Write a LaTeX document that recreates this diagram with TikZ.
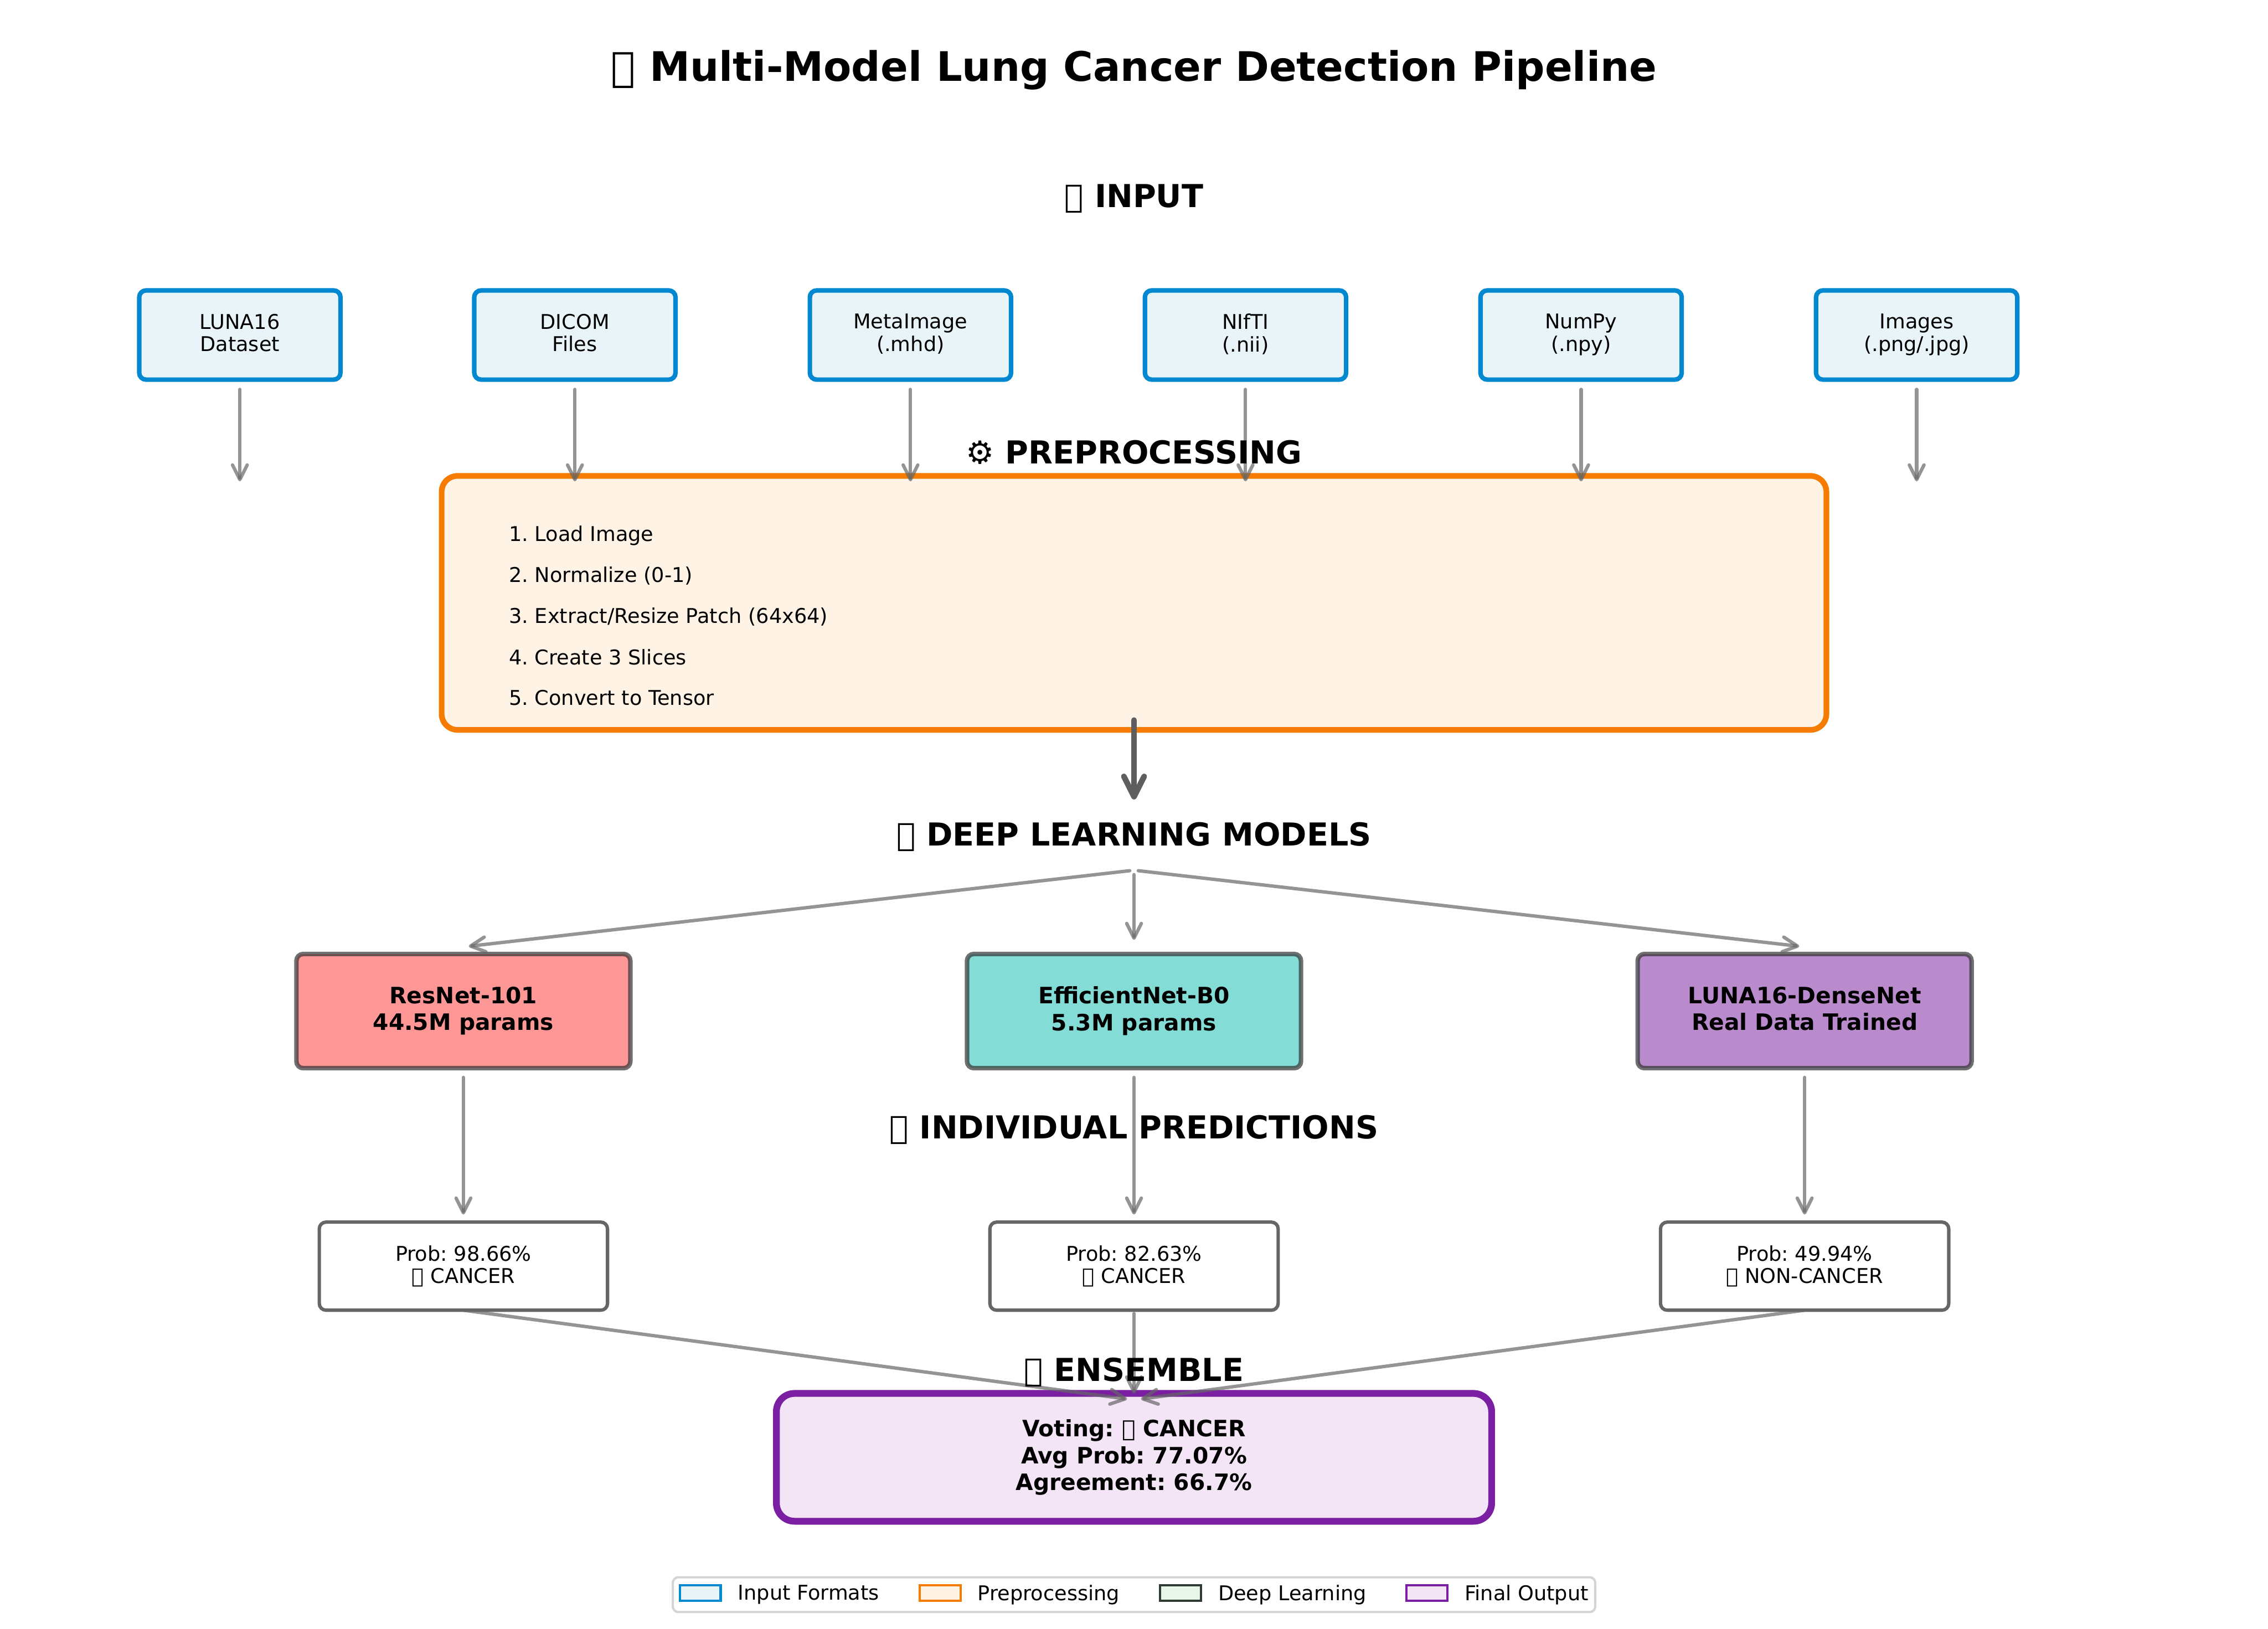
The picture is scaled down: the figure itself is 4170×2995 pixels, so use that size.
\documentclass[tikz,border=0pt]{standalone}
\usepackage{fontspec}
\setmainfont{DejaVu Sans}
\usetikzlibrary{arrows.meta}

\definecolor{inEdge}{HTML}{0288D1}
\definecolor{inFill}{HTML}{E8F4F8}
\definecolor{preEdge}{HTML}{F57C00}
\definecolor{preFill}{HTML}{FFF3E6}
\definecolor{dlEdge}{HTML}{2E3B33}
\definecolor{dlFill}{HTML}{E8F5E9}
\definecolor{ensEdge}{HTML}{7B1FA2}
\definecolor{ensFill}{HTML}{F3E5F5}
\definecolor{resnetFill}{HTML}{FF6B6B}
\definecolor{effnetFill}{HTML}{4ECDC4}
\definecolor{denseFill}{HTML}{9B59B6}

% caixa vazia dos glifos que faltam na fonte
\newcommand{\nogl}{{\XeTeXglyph 0 }}
\newcommand{\fsz}[2]{\fontsize{#1}{#2}\selectfont\frenchspacing}

\tikzset{
    titletext/.style={inner sep=0pt, font=\fsz{18}{22}\bfseries},
    sectext/.style={inner sep=0pt, font=\fsz{14}{17}\bfseries},
    basebox/.style={rounded corners=3pt, align=center, inner sep=0pt, outer sep=0pt},
    inbox/.style={basebox, draw=inEdge, fill=inFill, line width=2pt, text depth=2.1pt,
        minimum width=370*0.24bp, minimum height=164*0.24bp, font=\fsz{9}{10}},
    modelbox/.style={basebox, draw=black!80, opacity=0.7, text opacity=1, line width=2pt, text depth=2.3pt,
        minimum width=614*0.24bp, minimum height=210*0.24bp, font=\fsz{10}{11.9}\bfseries},
    probbox/.style={basebox, draw=black!60, fill=white, line width=1.5pt,
        minimum width=530*0.24bp, minimum height=162*0.24bp, font=\fsz{9}{10}},
    flow/.style={draw=black!60, draw opacity=0.7, line width=1.5pt, line cap=round, line join=round,
        -{Straight Barb[length=6.5pt,width=6.5pt,round]}},
    keypatch/.style={line width=1pt, minimum width=75*0.24bp, minimum height=29*0.24bp, inner sep=0pt, outer sep=0pt},
    keytext/.style={inner sep=0pt, anchor=west, font=\fsz{9}{10}}
}

\begin{document}
\begin{tikzpicture}[x=0.24bp, y=-0.24bp]
    % 1. MARGENS DA FIGURA
    \useasboundingbox (0,0) rectangle (4170,2995);
    \def\Cx{2085}  % Eixo central do fluxo

    % ==========================================
    % 2. FORMATOS DE ENTRADA
    % ==========================================
    \foreach \nm/\xx/\lbl in {inLuna/441/{LUNA16\\Dataset}, inDicom/1057/{DICOM\\Files},
            inMeta/1674/{MetaImage\\(.mhd)}, inNifti/2290/{NIfTI\\(.nii)},
            inNumpy/2907/{NumPy\\(.npy)}, inImages/3524/{Images\\(.png/.jpg)}} {
        \node[inbox] (\nm) at (\xx, 616) {\lbl};
        \coordinate (\nm End) at (\xx, 885);
    }

    % ==========================================
    % 3. PRE-PROCESSAMENTO
    % ==========================================
    \node[draw=preEdge, fill=preFill, line width=2.5pt, rounded corners=7pt, inner sep=0pt, outer sep=0pt,
        minimum width=2546*0.24bp, minimum height=467*0.24bp] (preBox) at (\Cx, 1108.5) {};
    \foreach \i/\yy/\lbl in {1/985/Load Image, 2/1059/Normalize (0-1), 3/1134/Extract\slash Resize Patch (64x64),
            4/1208/Create 3 Slices, 5/1283/Convert to Tensor} {
        \node[keytext] (preStep\i) at (935, \yy) {\i. \lbl};
    }
    \coordinate (modelsIn) at (\Cx, 1470);

    % ==========================================
    % 4. MODELOS E PREDICOES
    % ==========================================
    \coordinate (fanOut) at (\Cx, 1600);
    \coordinate (resnetIn) at (852, 1741);
    \coordinate (denseIn) at (3318, 1741);
    \node[modelbox, fill=resnetFill] (resnet) at (852, 1859) {ResNet-101\\44.5M params};
    \node[modelbox, fill=effnetFill] (effnet) at (\Cx, 1859) {EfficientNet-B0\\5.3M params};
    \node[modelbox, fill=denseFill] (dense) at (3318, 1859) {LUNA16-DenseNet\\Real Data Trained};

    \node[probbox] (probRes) at (852, 2328) {Prob: 98.66\%\\\nogl\ CANCER};
    \node[probbox] (probEff) at (\Cx, 2328) {Prob: 82.63\%\\\nogl\ CANCER};
    \node[probbox] (probDense) at (3318, 2328) {Prob: 49.94\%\\\nogl\ NON-CANCER};

    % ==========================================
    % 5. ENSEMBLE
    % ==========================================
    \node[basebox, draw=ensEdge, fill=ensFill, line width=3pt, rounded corners=8pt,
        minimum width=1315*0.24bp, minimum height=235*0.24bp, font=\fsz{10}{11.8}\bfseries] (ensBox) at (\Cx, 2679.5)
        {Voting: \nogl\ CANCER\\Avg Prob: 77.07\%\\Agreement: 66.7\%};
    \coordinate (ensIn) at (\Cx, 2574);

    % ==========================================
    % 6. SETAS
    % ==========================================
    \foreach \nm in {inLuna, inDicom, inMeta, inNifti, inNumpy, inImages} {
        \draw[flow, shorten <=18*0.24bp] (\nm.south) -- (\nm End);
    }
    \draw[draw=black!63, line width=2.5pt, line cap=round, line join=round,
        -{Straight Barb[length=9pt,width=9pt,round]}] ([yshift=18*0.24bp]preBox.south) -- (modelsIn);
    \draw[flow, shorten <=8*0.24bp, shorten >=10*0.24bp] (fanOut) -- (resnetIn);
    \draw[flow, shorten <=8*0.24bp, shorten >=26*0.24bp] (fanOut) -- (effnet.north);
    \draw[flow, shorten <=8*0.24bp, shorten >=10*0.24bp] (fanOut) -- (denseIn);
    \foreach \mdl/\prb in {resnet/probRes, effnet/probEff, dense/probDense} {
        \draw[flow, shorten <=17*0.24bp, shorten >=14*0.24bp] (\mdl.south) -- (\prb.north);
    }
    \draw[flow, shorten >=13*0.24bp] (probRes.south) -- (ensIn);
    \draw[flow, shorten <=6*0.24bp] (probEff.south) -- (ensBox.north);
    \draw[flow, shorten >=13*0.24bp] (probDense.south) -- (ensIn);

    % ==========================================
    % 7. TITULOS
    % ==========================================
    \node[titletext] (title) at (\Cx, 129) {\nogl\ Multi-Model Lung Cancer Detection Pipeline};
    \node[sectext] (secInput) at (\Cx, 365) {\nogl\ INPUT};
    \node[sectext] (secPre) at (\Cx, 832) {⚙ PREPROCESSING};
    \node[sectext] (secDeep) at (\Cx, 1539) {\nogl\ DEEP LEARNING MODELS};
    \node[sectext] (secPred) at (\Cx, 2077) {\nogl\ INDIVIDUAL PREDICTIONS};
    \node[sectext] (secEns) at (\Cx, 2523) {\nogl\ ENSEMBLE};

    % ==========================================
    % 8. LEGENDA
    % ==========================================
    \node[draw=black!17, fill=white, line width=1pt, rounded corners=2.5pt, inner sep=0pt, outer sep=0pt,
        minimum width=1696*0.24bp, minimum height=64*0.24bp] (keyFrame) at (\Cx, 2932) {};
    \node[keypatch, draw=inEdge, fill=inFill] (keyIn) at (1287.5, 2929) {};
    \node[keytext, yshift=-3*0.24bp, right=31*0.24bp] (keyInText) at (keyIn.east) {Input Formats};
    \node[keypatch, draw=preEdge, fill=preFill] (keyPre) at (1728.5, 2929) {};
    \node[keytext, yshift=-3*0.24bp, right=31*0.24bp] (keyPreText) at (keyPre.east) {Preprocessing};
    \node[keypatch, draw=dlEdge, fill=dlFill] (keyDeep) at (2170.5, 2929) {};
    \node[keytext, yshift=-3*0.24bp, right=31*0.24bp] (keyDeepText) at (keyDeep.east) {Deep Learning};
    \node[keypatch, draw=ensEdge, fill=ensFill] (keyOut) at (2623.5, 2929) {};
    \node[keytext, yshift=-3*0.24bp, right=31*0.24bp] (keyOutText) at (keyOut.east) {Final Output};
\end{tikzpicture}
\end{document}
